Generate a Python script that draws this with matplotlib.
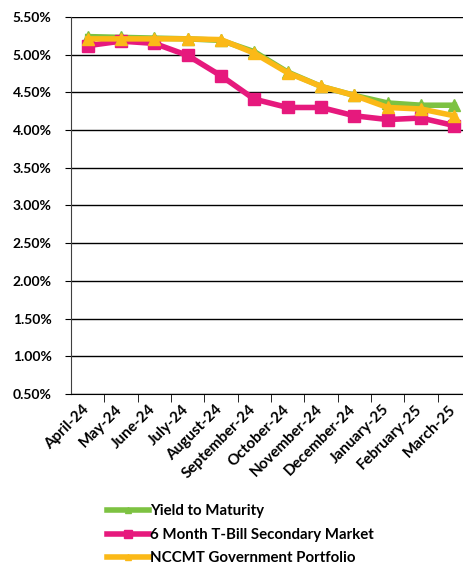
import matplotlib
matplotlib.use("Agg")
import matplotlib.pyplot as plt
from matplotlib.ticker import FuncFormatter, FixedLocator
from matplotlib.transforms import ScaledTranslation

months = ["April-24", "May-24", "June-24", "July-24", "August-24", "September-24",
          "October-24", "November-24", "December-24", "January-25", "February-25", "March-25"]
ytm = [5.24, 5.23, 5.22, 5.21, 5.19, 5.04, 4.77, 4.58, 4.46, 4.36, 4.33, 4.33]
tbill = [5.12, 5.18, 5.15, 4.99, 4.72, 4.41, 4.30, 4.30, 4.19, 4.14, 4.16, 4.06]
nccmt = [5.21, 5.21, 5.21, 5.21, 5.20, 5.02, 4.76, 4.58, 4.46, 4.30, 4.28, 4.19]
yticks = [0.5, 1.0, 1.5, 2.0, 2.5, 3.0, 3.5, 4.0, 4.5, 5.0, 5.5]

plt.rcParams['font.family'] = ['Lato', 'DejaVu Sans']
plt.rcParams['font.weight'] = 'bold'

fig = plt.figure(figsize=(4.63, 5.66), dpi=100)
ax = fig.add_axes([71/463, 1 - 394/566, 400/463, 377/566])

x = list(range(len(months)))
ax.plot(x, ytm, color='#7dc242', lw=4, marker='^', ms=8, label='Yield to Maturity')
ax.plot(x, tbill, color='#e6197d', lw=4, marker='s', ms=9, label='6 Month T-Bill Secondary Market')
ax.plot(x, nccmt, color='#fbb917', lw=4, marker='^', ms=8, label='NCCMT Government Portfolio')

ax.set_xlim(-0.5, len(months) - 0.5)
ax.set_ylim(0.5, 5.5)
ax.set_yticks(yticks)
ax.yaxis.set_major_formatter(FuncFormatter(lambda v, p: f"{v:.2f}%"))
ax.grid(axis='y', color='black', lw=1)
ax.set_axisbelow(True)

ax.set_xticks(x)
ax.set_xticklabels(months, rotation=45, ha='right', rotation_mode='anchor', fontsize=11)
ax.tick_params(axis='x', which='major', length=0, pad=6)
shift = ScaledTranslation(-6/100, 0, fig.dpi_scale_trans)
for lbl in ax.get_xticklabels():
    lbl.set_transform(lbl.get_transform() + shift)
ax.xaxis.set_minor_locator(FixedLocator([i + 0.5 for i in range(len(months))]))
ax.tick_params(axis='x', which='minor', length=6, color='black')
ax.tick_params(axis='y', length=4, labelsize=10, color='black', pad=10)

for s in ['top', 'right']:
    ax.spines[s].set_visible(False)
ax.spines['left'].set_color('#404040')
ax.spines['bottom'].set_color('black')

fig.legend(loc='upper left', bbox_to_anchor=(101/463, 1 - 498/566), frameon=False,
           fontsize=10.8, handlelength=2.8, labelspacing=0.65, handletextpad=0.1,
           borderaxespad=0, markerscale=0.6)

fig.savefig('out.png', dpi=100)
